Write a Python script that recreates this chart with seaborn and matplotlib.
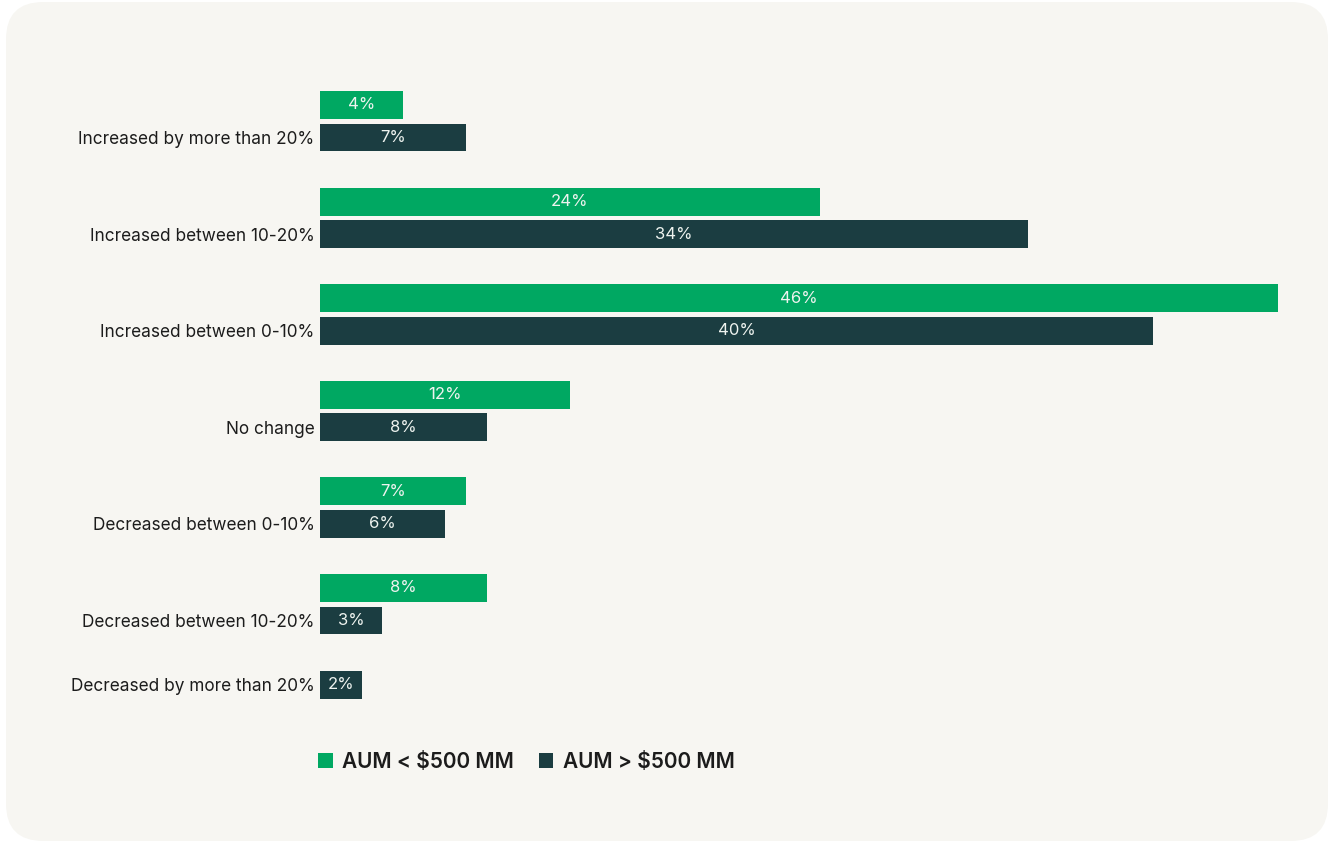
import matplotlib
matplotlib.use("Agg")
import matplotlib.pyplot as plt
from matplotlib.patches import FancyBboxPatch
import numpy as np
import pandas as pd
import seaborn as sns

# Survey responses: change in allocation, by firm size (share of respondents)
categories = [
    "Increased by more than 20%",
    "Increased between 10-20%",
    "Increased between 0-10%",
    "No change",
    "Decreased between 0-10%",
    "Decreased between 10-20%",
    "Decreased by more than 20%",
]
small_aum = [4, 24, 46, 12, 7, 8, 0]
large_aum = [7, 34, 40, 8, 6, 3, 2]
series_names = ["AUM < $500 MM", "AUM > $500 MM"]

GREEN = "#00a862"
DARK = "#1b3d41"
PANEL = "#f7f6f2"
TEXT = "#1c1c1c"

df = pd.DataFrame({
    "category": categories * 2,
    "value": small_aum + large_aum,
    "group": [series_names[0]] * len(categories) + [series_names[1]] * len(categories),
})

sns.set_theme(style="white")
plt.rcParams["font.family"] = ["Inter", "DejaVu Sans"]

fig = plt.figure(figsize=(13.33, 8.46), dpi=100)
fig.patch.set_facecolor("white")

# Rounded background card
card = FancyBboxPatch((6 / 1333, 5 / 846), 1322 / 1333, 839 / 846,
                      boxstyle="round,pad=0,rounding_size=0.028",
                      transform=fig.transFigure, facecolor=PANEL,
                      edgecolor="none", zorder=-10, mutation_aspect=1333 / 846)
fig.patches.append(card)

ax = fig.add_axes([0.24006, 0.11448, 0.71868, 0.79929])
ax.set_facecolor("none")
ax.set_zorder(1)

sns.barplot(data=df, y="category", x="value", hue="group",
            order=categories, hue_order=series_names,
            palette=[GREEN, DARK], orient="h", width=0.673, gap=0.14,
            saturation=1, linewidth=0, legend=True, ax=ax)

green_bars = ax.containers[0]
dark_bars = ax.containers[1]

# A group without a green bar moves its dark bar into the top slot
for gbar, dbar, gv in zip(green_bars, dark_bars, small_aum):
    if gv == 0:
        dbar.set_y(gbar.get_y())
        gbar.set_visible(False)

# Value labels centred in each bar
for bars, vals in ((green_bars, small_aum), (dark_bars, large_aum)):
    for bar, v in zip(bars, vals):
        if v == 0:
            continue
        ax.text(bar.get_x() + bar.get_width() / 2,
                bar.get_y() + bar.get_height() / 2,
                f"{v}%", ha="center", va="center",
                color="#eef3ef", fontsize=12)

# Category labels sit beside the dark bar of each group
ax.set_yticks([b.get_y() + b.get_height() / 2 for b in dark_bars])
ax.set_yticklabels(categories, fontsize=12.4, color=TEXT)
ax.tick_params(axis="y", length=0, pad=4)

ax.set_xlim(0, max(small_aum + large_aum))
ax.set_xticks([])
ax.set_xlabel("")
ax.set_ylabel("")
for s in ax.spines.values():
    s.set_visible(False)

handles, labels = ax.get_legend_handles_labels()
ax.get_legend().remove()
fig.legend(handles, labels, loc="center left",
           bbox_to_anchor=(0.2385, 0.0993), ncol=2, frameon=False,
           handlelength=0.7, handleheight=0.7,
           handletextpad=0.45, columnspacing=1.2, borderpad=0,
           borderaxespad=0, labelcolor=TEXT,
           prop={"weight": "semibold", "size": 15})

fig.savefig("out.png", dpi=100, facecolor="white")
